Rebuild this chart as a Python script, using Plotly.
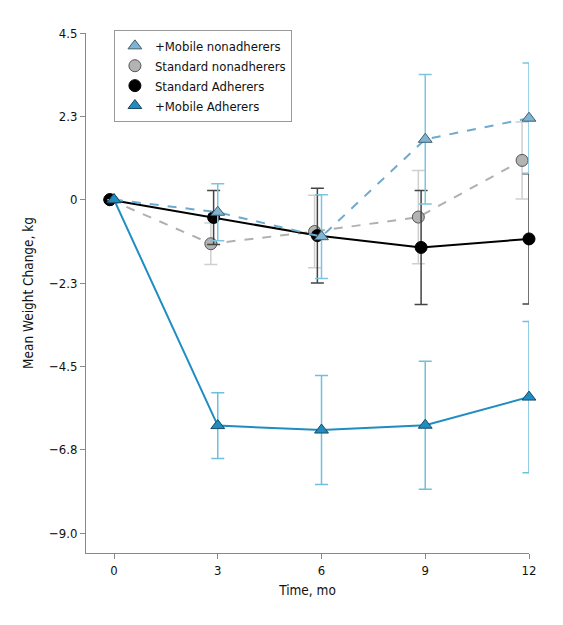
import plotly.graph_objects as go

months = [0, 3, 6, 9, 12]

# x positions (slight horizontal jitter as in the original figure)
x_mob_non = [0, 3, 6, 9, 12]
x_std_non = [-0.12, 2.8, 5.8, 8.8, 11.8]
x_std_adh = [-0.12, 2.88, 5.88, 8.88, 12.0]
x_mob_adh = [0, 3, 6, 9, 12]

# mean weight change, kg
y_mob_non = [0, -0.34, -1.0, 1.63, 2.2]
y_std_non = [0, -1.19, -0.86, -0.47, 1.06]
y_std_adh = [0, -0.48, -0.97, -1.29, -1.06]
y_mob_adh = [0, -6.1, -6.22, -6.09, -5.33]

# error bar half widths, kg
e_mob_non = [0, 0.77, 1.13, 1.75, 1.49]
e_std_non = [0, 0.56, 0.98, 1.26, 1.04]
e_std_adh = [0, 0.73, 1.28, 1.54, 1.76]
e_mob_adh = [0, 0.89, 1.47, 1.73, 2.04]

tick_vals = [4.5, 2.25, 0, -2.25, -4.5, -6.75, -9.0]
tick_text = ["4.5", "2.3", "0", "\u22122.3", "\u22124.5", "\u22126.8", "\u22129.0"]

names = ["+Mobile nonadherers", "Standard nonadherers", "Standard Adherers", "+Mobile Adherers"]

FONT = "Liberation Sans Narrow, DejaVu Sans Condensed, Arial Narrow, sans-serif"
FS = 13
FS_TITLE = 13.5

fig = go.Figure()

def add_series(x, y, e, line_color, dash, sym, fill, outline, err_color, name):
    fig.add_trace(go.Scatter(
        x=x, y=y, mode="lines+markers", name=name, showlegend=False,
        line=dict(color=line_color, width=2, dash=dash),
        marker=dict(symbol=sym, size=12, color=fill, line=dict(color=outline, width=1)),
        error_y=dict(type="data", array=e, visible=True, color=err_color, thickness=1.5, width=6.5),
        cliponaxis=False, hoverinfo="skip",
    ))

add_series(x_std_non, y_std_non, e_std_non, "#b0b0b0", "dash", "circle", "#b3b3b3", "#555555", "#cfcfcf", names[1])
add_series(x_std_adh, y_std_adh, e_std_adh, "#000000", "solid", "circle", "#000000", "#000000", "#444444", names[2])
add_series(x_mob_non, y_mob_non, e_mob_non, "#6ea9cf", "dash", "triangle-up", "#80b4d3", "#3f5f73", "#7cc5e2", names[0])
add_series(x_mob_adh, y_mob_adh, e_mob_adh, "#1f8dc1", "solid", "triangle-up", "#1f8dc1", "#1a4a66", "#6fc0de", names[3])

# legend entries (markers only)
leg = [
    (names[0], "triangle-up", "#80b4d3", "#3f5f73"),
    (names[1], "circle", "#b3b3b3", "#555555"),
    (names[2], "circle", "#000000", "#000000"),
    (names[3], "triangle-up", "#1f8dc1", "#1a4a66"),
]
for i, (n, s, f, o) in enumerate(leg):
    fig.add_trace(go.Scatter(
        x=[None], y=[None], mode="markers", name=n, legendrank=i + 1,
        marker=dict(symbol=s, size=12, color=f, line=dict(color=o, width=1)),
    ))

fig.update_layout(
    width=563, height=625,
    margin=dict(l=86, r=34, t=33, b=72),
    paper_bgcolor="white", plot_bgcolor="white",
    font=dict(family=FONT, size=FS, color="#111111"),
    legend=dict(
        x=0.063, y=1.006, xanchor="left", yanchor="top",
        bordercolor="#999999", borderwidth=1, bgcolor="white",
        font=dict(family=FONT, size=FS, color="#111111"),
        tracegroupgap=0, itemwidth=30,
    ),
    xaxis=dict(
        range=[-0.81, 12], tickvals=months, ticktext=[str(m) for m in months],
        showgrid=False, zeroline=False, showline=True, linecolor="#888888", linewidth=1,
        ticks="outside", ticklen=5, tickcolor="#888888",
        title=dict(text="Time, mo", font=dict(family=FONT, size=FS_TITLE), standoff=8),
        tickfont=dict(family=FONT, size=FS),
    ),
    yaxis=dict(
        range=[-9.54, 4.5], tickvals=tick_vals, ticktext=tick_text,
        showgrid=False, zeroline=False, showline=True, linecolor="#888888", linewidth=1,
        ticks="outside", ticklen=5, tickcolor="#888888",
        title=dict(text="Mean Weight Change, kg", font=dict(family=FONT, size=FS_TITLE), standoff=12),
        tickfont=dict(family=FONT, size=FS),
    ),
)

fig.write_html("out.html", config={"displayModeBar": False},
               post_script="document.body.style.margin='0';")
